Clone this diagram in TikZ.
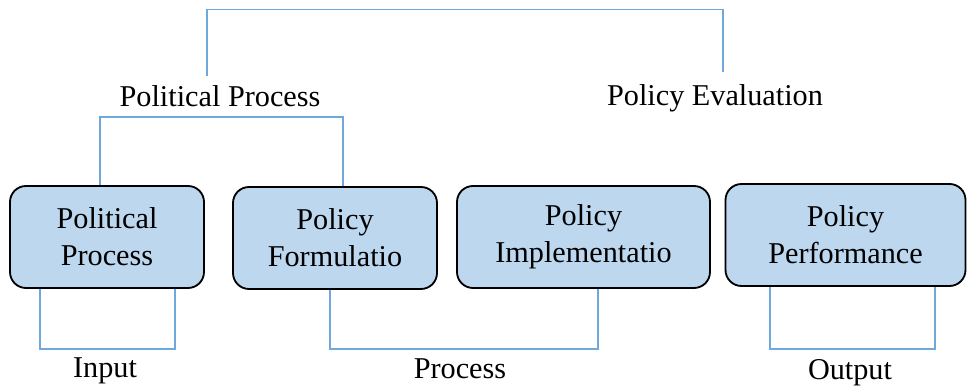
\documentclass[tikz,border=0pt]{standalone}
\usepackage{fontspec}
\setmainfont{Liberation Serif}
\usetikzlibrary{calc}
\definecolor{boxblue}{HTML}{BDD7EE}
\definecolor{linkblue}{HTML}{6FA8DC}

\begin{document}
\begin{tikzpicture}[x=0.025cm,y=0.025cm,font=\fontsize{21.5}{26.3}\selectfont,
  box/.style={rectangle,rounded corners=4mm,draw=black,line width=1.3pt,fill=boxblue,align=center,minimum height=102*0.025cm,inner sep=0pt},
  link/.style={draw=linkblue,line width=0.9pt},
  lbl/.style={inner sep=1pt}]
  \useasboundingbox (0,0) rectangle (968,386);
  \node[box,minimum width=194*0.025cm] (pp) at (107,149) {Political\\Process};
  \node[box,minimum width=204*0.025cm] (pf) at (335,148) {Policy\\Formulatio};
  \node[box,minimum width=253*0.025cm] (pi) at (583.5,149) {Policy\\Implementatio};
  \node[box,minimum width=240*0.025cm] (pe) at (845.5,151) {Policy\\Performance};
  \node[lbl] (lpp) at (220,290) {Political Process};
  \node[lbl] (lpe) at (715,288) {Policy Evaluation};
  \node[lbl] (lin) at (105,15) {Input};
  \node[lbl] (lpr) at (460,17) {Process};
  \node[lbl] (lout) at (850,13) {Output};
  \draw[link] ($(pp.south)+(-67,0)$) -- ++(0,-60) -| ($(pp.south)+(68,0)$);
  \draw[link] ($(pf.south)+(-5,0)$) -- ++(0,-59) -| ($(pi.south)+(14.5,0)$);
  \draw[link] ($(pe.south)+(-75.5,0)$) -- ++(0,-62) -| ($(pe.south)+(89.5,0)$);
  \draw[link] ($(pp.north)+(-7,0)$) -- ++(0,68) -| ($(pf.north)+(8,0)$);
  \draw[link] ($(lpp.north)+(-13,8)$) -- ++(0,66) -| ($(lpe.north)+(8,11)$);
\end{tikzpicture}
\end{document}
